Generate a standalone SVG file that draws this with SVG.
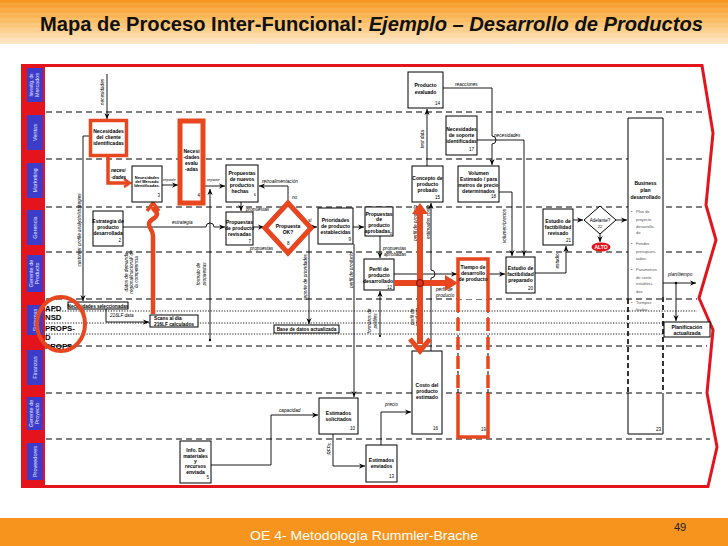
<svg xmlns="http://www.w3.org/2000/svg" width="728" height="546" viewBox="0 0 728 546">
<defs>
<linearGradient id="tg" x1="0" y1="0" x2="0" y2="1">
<stop offset="0" stop-color="#f7961f"/>
<stop offset="0.5" stop-color="#fbbf66"/>
<stop offset="1" stop-color="#fde8ca"/>
</linearGradient>
<marker id="a" viewBox="0 0 8 8" refX="8" refY="4" markerWidth="6" markerHeight="6" markerUnits="userSpaceOnUse" orient="auto"><path d="M0,0.5 L8,4 L0,7.5 L2.5,4Z" fill="#000"/></marker>
<style>
text{font-family:"Liberation Sans",Arial,sans-serif}
.b{fill:#fff;stroke:#000;stroke-width:1}
.rb{fill:#fff;stroke:#e8461e;stroke-width:3.5}
.t{font-size:5px;font-weight:bold;text-anchor:middle;fill:#000}
.n{font-size:4.5px;text-anchor:end;fill:#000}
.l{font-size:4.7px;font-style:italic;fill:#000}
.lc{font-size:4.7px;font-style:italic;text-anchor:middle;fill:#000}
.bt{font-size:4px;fill:#555}
.ln{fill:none;stroke:#000;stroke-width:0.9}
.lane{stroke:#000;stroke-width:1.2;stroke-dasharray:6 4;fill:none}
.dot{stroke:#000;stroke-width:0.9;stroke-dasharray:1.2 1.5;fill:none}
.red{fill:none;stroke:#e8461e}
.lb{fill:#3c3cc8}
.lt{font-size:5.5px;fill:#e6e6ff;text-anchor:middle}
.sy{font-size:7.8px;font-weight:bold;fill:#000}
</style>
</defs>

<!-- title -->
<rect x="0" y="0" width="728" height="44" fill="url(#tg)"/>
<g stroke="#fff" stroke-opacity="0.18" stroke-width="1">
<line x1="0" y1="4" x2="728" y2="4"/><line x1="0" y1="9" x2="728" y2="9"/><line x1="0" y1="14" x2="728" y2="14"/><line x1="0" y1="19" x2="728" y2="19"/><line x1="0" y1="24" x2="728" y2="24"/><line x1="0" y1="29" x2="728" y2="29"/><line x1="0" y1="34" x2="728" y2="34"/><line x1="0" y1="39" x2="728" y2="39"/>
</g>
<text x="40" y="30.5" font-size="19.5" font-weight="bold" fill="#111" textLength="663" lengthAdjust="spacingAndGlyphs">Mapa de Proceso Inter-Funcional: <tspan font-style="italic">Ejemplo – Desarrollo de Productos</tspan></text>

<!-- footer -->
<rect x="0" y="518" width="728" height="28" fill="#f7941d"/>
<text x="364" y="540" font-size="13.5" fill="#fff" text-anchor="middle" textLength="228" lengthAdjust="spacingAndGlyphs">OE 4- Metodología Rummler-Brache</text>
<text x="680" y="531" font-size="11" fill="#222" text-anchor="middle">49</text>

<!-- frame -->
<g id="frame">
<rect x="21" y="64" width="24" height="424" fill="#e3141c"/>
<path d="M44,65.5 H702 L713,133 L706,205 L716,240 L699,298 L713,330 L707,393 L717,447 L708,486.5 H44" fill="none" stroke="#e3141c" stroke-width="3"/>
<rect class="lb" x="27" y="68" width="16" height="34"/>
<rect class="lb" x="27" y="115" width="16" height="35"/>
<rect class="lb" x="27" y="163" width="16" height="35"/>
<rect class="lb" x="27" y="210" width="16" height="35"/>
<rect class="lb" x="27" y="255" width="16" height="37"/>
<rect class="lb" x="27" y="305" width="16" height="30"/>
<rect class="lb" x="27" y="350" width="16" height="35"/>
<rect class="lb" x="27" y="397" width="16" height="33"/>
<rect class="lb" x="27" y="443" width="16" height="37"/>
<text class="lt" transform="translate(33,85) rotate(-90)" style="font-size:4.5px">Investig. de</text>
<text class="lt" transform="translate(39,85) rotate(-90)">Mercados</text>
<text class="lt" transform="translate(37,132.5) rotate(-90)">Ventas</text>
<text class="lt" transform="translate(37,180.5) rotate(-90)">Marketing</text>
<text class="lt" transform="translate(37,227.5) rotate(-90)">Gerencia</text>
<text class="lt" transform="translate(33,273.5) rotate(-90)">Gerente de</text>
<text class="lt" transform="translate(39,273.5) rotate(-90)">Producto</text>
<text class="lt" transform="translate(37,320) rotate(-90)">Sistemas</text>
<text class="lt" transform="translate(37,367.5) rotate(-90)">Finanzas</text>
<text class="lt" transform="translate(33,413.5) rotate(-90)">Gerente de</text>
<text class="lt" transform="translate(39,413.5) rotate(-90)">Proyecto</text>
<text class="lt" transform="translate(37,461.5) rotate(-90)">Proveedores</text>
</g>

<!-- lanes -->
<g id="lanes">
<line class="lane" x1="46" y1="112" x2="702" y2="112"/>
<line class="lane" x1="46" y1="159" x2="703" y2="159"/>
<line class="lane" x1="46" y1="207" x2="703" y2="207"/>
<line class="lane" x1="46" y1="252" x2="703" y2="252"/>
<line class="lane" x1="46" y1="299" x2="697" y2="299"/>
<line class="dot" x1="46" y1="311" x2="697" y2="311"/>
<line class="dot" x1="46" y1="323" x2="700" y2="323"/>
<line class="dot" x1="46" y1="334" x2="703" y2="334"/>
<line class="lane" x1="46" y1="346" x2="707" y2="346"/>
<line class="lane" x1="46" y1="393" x2="705" y2="393"/>
<line class="lane" x1="46" y1="439" x2="710" y2="439"/>
</g>

<!-- sistemas texts -->
<g id="sistemas-codes">
<text class="sy" x="45" y="311">APD</text>
<text class="sy" x="45" y="320">NSD</text>
<text class="sy" x="45" y="331">PROPS-</text>
<text class="sy" x="45" y="340">D</text>
<text class="sy" x="45" y="349">PROPS</text>
</g>

<!-- connectors -->
<g id="connectors">
<line class="ln" x1="107" y1="74" x2="107" y2="119" marker-end="url(#a)"/>
<path class="ln" d="M162,185 H178" marker-end="url(#a)"/>
<path class="ln" d="M205,186 H225" marker-end="url(#a)"/>
<path class="ln" d="M210,340 V189" marker-end="url(#a)"/>
<circle cx="210" cy="340" r="1.2"/>
<path class="ln" d="M288,203 V186 H259" marker-end="url(#a)"/>
<path class="ln" d="M241,202 V211" marker-end="url(#a)"/>
<path class="ln" d="M123,227 H206 a4,4 0 0 1 8,0 H225" marker-end="url(#a)"/>
<path class="ln" d="M253,227 H264" marker-end="url(#a)"/>
<path class="ln" d="M311,227 H317" marker-end="url(#a)"/>
<path class="ln" d="M309,229 V324" marker-end="url(#a)"/>
<path class="ln" d="M353,227 H364" marker-end="url(#a)"/>
<path class="ln" d="M354,244 V397" marker-end="url(#a)"/>
<path class="ln" d="M380,236 V258" marker-end="url(#a)"/>
<path class="ln" d="M394,274 H457" marker-end="url(#a)"/>
<path class="ln" d="M431,351 V278 a4,4 0 0 0 0,-8 V203" marker-end="url(#a)"/>
<path class="ln" d="M380,336 V291" marker-end="url(#a)"/>
<circle cx="380" cy="336" r="1.1"/>
<path class="ln" d="M427,166 V109" marker-end="url(#a)"/>
<path class="ln" d="M443,88 H492 V136 a4,4 0 0 1 0,8 V165" marker-end="url(#a)"/>
<path class="ln" d="M477,140 H524 V256" marker-end="url(#a)"/>
<path class="ln" d="M499,192 H512 V256" marker-end="url(#a)"/>
<path class="ln" d="M488,274 H505" marker-end="url(#a)"/>
<path class="ln" d="M535,273 H566 V246" marker-end="url(#a)"/>
<path class="ln" d="M573,220 H583" marker-end="url(#a)"/>
<path class="ln" d="M616,220 H627" marker-end="url(#a)"/>
<path class="ln" d="M600,234 V242" marker-end="url(#a)"/>
<path class="ln" d="M663,283 H696" marker-end="url(#a)"/>
<path class="ln" d="M676,283 V321" marker-end="url(#a)"/>
<circle cx="676" cy="283" r="1.2"/>
<path class="ln" d="M89,136 H83 V301" marker-end="url(#a)"/>
<path class="ln" d="M106,309 V322 H149" marker-end="url(#a)"/>
<path class="ln" d="M211,465 H271 V415 H318" marker-end="url(#a)"/>
<path class="ln" d="M333,434 V466 H365" marker-end="url(#a)"/>
<path class="ln" d="M381,445 V412 H411" marker-end="url(#a)"/>
<!-- red connectors -->
<path class="red" stroke-width="3.5" d="M108,157 V183 H128"/>
<path class="red" stroke-width="2.5" d="M124,179 L130,183 L124,187"/>
<path class="red" stroke-width="4.5" d="M153,314 V236 C153,230 149,229 149,224 C149,219 157,219 157,214 C157,211 153,211 153,207"/>
<path class="red" stroke-width="3.5" d="M147,211 L153,203 L159,211"/>
</g>

<!-- labels -->
<g id="labels">
<text class="lc" transform="translate(104.2,92) rotate(-90)">necesidades</text>
<text class="l" x="455" y="86">reacciones</text>
<text class="lc" transform="translate(423.7,139) rotate(-90)">test data</text>
<text class="l" x="494" y="137">necesidades</text>
<text class="l" x="111" y="172" font-weight="bold">necesi</text>
<text class="l" x="111" y="178.5" font-weight="bold">-dades</text>
<text class="l" x="163" y="181" style="font-size:4px">reporte</text>
<text class="l" x="207" y="181" style="font-size:4px">reporte</text>
<text class="l" x="262" y="183">retroalimentación</text>
<text class="l" x="292" y="199">no</text>
<text class="l" x="246" y="211">propuestas</text>
<text class="l" x="250" y="250">propuestas</text>
<text class="l" x="308" y="222">sí</text>
<text class="l" x="172" y="224">estrategia</text>
<text class="lc" transform="translate(80.7,230) rotate(-90)">customer profile analysis/strategies</text>
<text class="lc" transform="translate(127.7,272) rotate(-90)">datos de demanda</text>
<text class="lc" transform="translate(132.7,272) rotate(-90)">regional/nacional/ de</text>
<text class="lc" transform="translate(137.7,272) rotate(-90)">la competencia</text>
<text class="lc" transform="translate(199.7,274) rotate(-90)">formato de</text>
<text class="lc" transform="translate(205.7,274) rotate(-90)">propuestas</text>
<text class="lc" transform="translate(306.7,277) rotate(-90)">reporte de prioridades</text>
<text class="lc" transform="translate(352.7,270) rotate(-90)">perfil de producto</text>
<text class="l" x="383" y="250">propuestas</text>
<text class="l" x="384" y="256">aprobadas</text>
<text class="lc" transform="translate(416.5,223) rotate(-90)">perfil de producto</text>
<text class="lc" transform="translate(429.5,222) rotate(-90)">estimados costo</text>
<text class="lc" transform="translate(413.5,317) rotate(-90)">perfil de</text>
<text class="lc" transform="translate(418.7,317) rotate(-90)">producto</text>
<text class="l" x="436" y="291">perfil de</text>
<text class="l" x="436" y="296.5">producto</text>
<text class="lc" transform="translate(370.5,321) rotate(-90)">formatos de</text>
<text class="lc" transform="translate(376.5,321) rotate(-90)">perfiles</text>
<text class="lc" transform="translate(505.7,226) rotate(-90)">volumen/precios</text>
<text class="lc" transform="translate(558.7,261) rotate(-90)">estudio</text>
<text class="l" x="668" y="276">plan/tiempo</text>
<text class="l" x="110" y="317">216LF data</text>
<text class="l" x="279" y="412">capacidad</text>
<text class="l" x="385" y="406">precio</text>
<text class="lc" transform="translate(330.5,449) rotate(-90)">RFPs</text>
</g>

<!-- nodes -->
<g id="n1"><rect class="rb" x="90.5" y="120.5" width="36" height="35"/>
<text class="t" x="108.5" y="133">Necesidades</text><text class="t" x="108.5" y="139">del cliente</text><text class="t" x="108.5" y="145">identificadas</text></g>

<g id="n4"><rect class="rb" x="180" y="121" width="23" height="82" style="stroke-width:5"/>
<text class="t" x="191.5" y="153">Necesi</text><text class="t" x="191.5" y="159">-dades</text><text class="t" x="191.5" y="165">evalu</text><text class="t" x="191.5" y="171">-adas</text><text class="n" x="200" y="197">4</text></g>

<g id="n3"><rect class="b" x="132" y="166" width="30" height="36"/>
<text class="t" x="147" y="179" style="font-size:4px">Necesidades</text><text class="t" x="147" y="183" style="font-size:4px">del Mercado</text><text class="t" x="147" y="187" style="font-size:4px">Identificadas.</text><text class="n" x="160" y="197">3</text></g>

<g id="n6"><rect class="b" x="226" y="165" width="32" height="37"/>
<text class="t" x="242" y="175">Propuestas</text><text class="t" x="242" y="181">de nuevos</text><text class="t" x="242" y="187">productos</text><text class="t" x="240" y="193">hechas</text><text class="n" x="256" y="196" style="font-size:4px">6</text></g>

<g id="n2"><rect class="b" x="93" y="211" width="30" height="35"/>
<text class="t" x="108" y="223">Estrategia de</text><text class="t" x="108" y="229">producto</text><text class="t" x="108" y="235">desarrollada</text><text class="n" x="121" y="242">2</text></g>

<g id="n7"><rect class="b" x="226" y="212" width="27" height="33"/>
<text class="t" x="239.5" y="224">Propuestas</text><text class="t" x="239.5" y="230">de producto</text><text class="t" x="239.5" y="236">revisadas</text><text class="n" x="251" y="243">7</text></g>

<g id="n8"><polygon points="288,203 311,228 288,253 265,228" fill="#fff" stroke="#e8461e" stroke-width="5" stroke-linejoin="miter"/>
<text class="t" x="288" y="228">Propuesta</text><text class="t" x="288" y="234">OK?</text><text class="n" x="289.5" y="245">8</text></g>

<g id="n9"><rect class="b" x="318" y="208" width="35" height="36"/>
<text class="t" x="335.5" y="222">Prioridades</text><text class="t" x="335.5" y="228">de producto</text><text class="t" x="335.5" y="234">establecidas</text><text class="n" x="351" y="241">9</text></g>

<g id="n11"><rect class="b" x="365" y="207" width="28" height="29"/>
<text class="t" x="379" y="215.5">Propuestas</text><text class="t" x="379" y="221">de</text><text class="t" x="379" y="226.5">producto</text><text class="t" x="377.5" y="232.5">aprobadas</text><text class="n" x="392.5" y="235.3" style="font-size:3px">11</text></g>

<g id="n12"><rect class="b" x="364" y="259" width="30" height="31"/>
<text class="t" x="379" y="271">Perfil de</text><text class="t" x="379" y="277">producto</text><text class="t" x="378" y="283">desarrollado</text><text class="n" x="392" y="289">12</text></g>

<g id="n19">
<rect x="458" y="259" width="30" height="40" fill="#fff"/>
<path d="M458,299 V259 H488 V299" fill="none" stroke="#e8461e" stroke-width="3.5"/>
<path d="M458,299 V393 M488,299 V393" fill="none" stroke="#000" stroke-width="1" stroke-dasharray="5 4"/>
<path d="M458,299 V393 M488,299 V393" fill="none" stroke="#e8461e" stroke-width="3.5" stroke-dasharray="13 6"/>
<path d="M458,393 V437 H488 V393" fill="none" stroke="#e8461e" stroke-width="3.5"/>
<text class="t" x="473" y="269">Tiempo de</text><text class="t" x="473" y="275">desarrollo</text><text class="t" x="473" y="281">de producto</text><text class="n" x="486" y="431">19</text></g>

<g id="n20"><rect class="b" x="506" y="257" width="29" height="36"/>
<text class="t" x="520.5" y="270">Estudio de</text><text class="t" x="520.5" y="276">factibilidad</text><text class="t" x="520.5" y="282">preparado</text><text class="n" x="533" y="290">20</text></g>

<g id="n21"><rect class="b" x="543" y="209" width="30" height="36"/>
<text class="t" x="558" y="223">Estudio de</text><text class="t" x="558" y="229">factibilidad</text><text class="t" x="558" y="235">revisado</text><text class="n" x="571" y="242">21</text></g>

<g id="n22"><polygon class="b" points="600,206 616,220 600,234 584,220"/>
<text x="600" y="221.5" font-size="4.6" text-anchor="middle">Adelante?</text><text x="600" y="228" font-size="4" text-anchor="middle">22</text></g>

<g id="alto"><ellipse cx="601" cy="247" rx="9.5" ry="4.5" fill="#e3141c"/>
<text x="601" y="249" font-size="5" font-weight="bold" fill="#fff" text-anchor="middle">ALTO</text></g>

<g id="n23">
<rect x="628" y="118" width="35" height="179" fill="#fff"/>
<path d="M628,299 V118 H663 V297" fill="none" stroke="#000" stroke-width="1"/>
<path d="M628,299 V393 M663,297 V393" fill="none" stroke="#000" stroke-width="1.6" stroke-dasharray="5 3"/>
<path d="M628,393 V434 H663 V393" fill="none" stroke="#000" stroke-width="1"/>
<text class="t" x="645.5" y="185">Business</text><text class="t" x="645.5" y="192">plan</text><text class="t" x="645.5" y="199">desarrollado</text>
<text class="bt" x="631" y="213">•</text><text class="bt" x="636" y="213">Plan de</text>
<text class="bt" x="636" y="220.5">proyecto</text><text class="bt" x="636" y="228">desarrolla-</text><text class="bt" x="636" y="234">do</text>
<text class="bt" x="631" y="245">•</text><text class="bt" x="636" y="245">Fondos</text>
<text class="bt" x="636" y="253">presupues-</text><text class="bt" x="636" y="260">tados</text>
<text class="bt" x="631" y="271">•</text><text class="bt" x="636" y="271">Parametros</text>
<text class="bt" x="636" y="279">de costo</text><text class="bt" x="636" y="285">estableci-</text><text class="bt" x="636" y="293">dos</text>
<text class="bt" x="631" y="304">•</text><text class="bt" x="636" y="304">Tiempos</text><text class="bt" x="636" y="311">fijados</text>
<text class="n" x="661" y="431">23</text></g>

<g id="n14"><rect class="b" x="408" y="72" width="35" height="36"/>
<text class="t" x="425.5" y="87">Producto</text><text class="t" x="425.5" y="94">evaluado</text><text class="n" x="440" y="105">14</text></g>

<g id="n17"><rect class="b" x="446" y="116" width="31" height="39"/>
<text class="t" x="461.5" y="131">Necesidades</text><text class="t" x="461.5" y="137">de soporte</text><text class="t" x="461.5" y="143">identificadas</text><text class="n" x="474" y="151">17</text></g>

<g id="n15"><rect class="b" x="412" y="166" width="31" height="36"/>
<text class="t" x="427.5" y="180">Concepto de</text><text class="t" x="427.5" y="186">producto</text><text class="t" x="427.5" y="192">probado</text><text class="n" x="440" y="199">15</text></g>

<g id="n18"><rect class="b" x="458" y="166" width="41" height="36"/>
<text class="t" x="478.5" y="175">Volumen</text><text class="t" x="478.5" y="181">Estimado / para</text><text class="t" x="478.5" y="187">metros de precio</text><text class="t" x="478.5" y="193">determinados</text><text class="n" x="496" y="198">18</text></g>

<g id="n16"><rect class="b" x="412" y="351" width="30" height="83"/>
<text class="t" x="427" y="387">Costo del</text><text class="t" x="427" y="393">producto</text><text class="t" x="427" y="399">estimado</text><text class="n" x="438" y="430">16</text></g>

<g id="n10"><rect class="b" x="319" y="398" width="39" height="36"/>
<text class="t" x="338.5" y="415">Estimados</text><text class="t" x="338.5" y="421">solicitados</text><text class="n" x="355" y="430">10</text></g>

<g id="n13"><rect class="b" x="366" y="445" width="31" height="37"/>
<text class="t" x="381.5" y="462">Estimados</text><text class="t" x="381.5" y="468">enviados</text><text class="n" x="394" y="478">13</text></g>

<g id="n5"><rect class="b" x="180" y="441" width="31" height="42"/>
<text class="t" x="195.5" y="452">Info. De</text><text class="t" x="195.5" y="458">materiales</text><text class="t" x="195.5" y="463">y</text><text class="t" x="195.5" y="468">recursos</text><text class="t" x="195.5" y="474">enviada</text><text class="n" x="209" y="479">5</text></g>

<g id="nsel"><rect class="b" x="68" y="302" width="60" height="7"/>
<text class="t" x="98" y="307.8" style="font-size:4.6px">Necesidades seleccionadas</text></g>

<g id="nscan"><rect class="b" x="150" y="315" width="48" height="12"/>
<text class="t" x="154" y="320" style="font-size:4.8px;text-anchor:start">Scans al día</text><text class="t" x="154" y="325.5" style="font-size:4.8px;text-anchor:start">216LF calculados</text></g>

<g id="nbd"><rect class="b" x="274" y="325" width="65" height="8"/>
<text class="t" x="306.5" y="331.2" style="font-size:4.8px">Base de datos actualizada</text></g>

<g id="nplan"><rect class="b" x="664" y="322" width="46" height="15"/>
<text class="t" x="687" y="329">Planificación</text><text class="t" x="687" y="335">actualizada</text></g>

<!-- red overlays -->
<g id="red-arrows">
<line x1="420" y1="213" x2="420" y2="344" stroke="#e8461e" stroke-width="6"/>
<polygon points="412,214 420,203 428,214" fill="#e8461e"/>
<path class="red" stroke-width="5" d="M410,339 L420,351 L430,339"/>
<line x1="394" y1="283" x2="447" y2="283" stroke="#e8461e" stroke-width="6"/>
<polygon points="445,275 458,283 445,291" fill="#e8461e"/>
<circle cx="420" cy="283" r="3.5" fill="#d8361a" stroke="#600" stroke-width="0.8"/>
<ellipse cx="61" cy="324" rx="24" ry="27" fill="none" stroke="#e8461e" stroke-width="4"/>
</g>
</svg>
